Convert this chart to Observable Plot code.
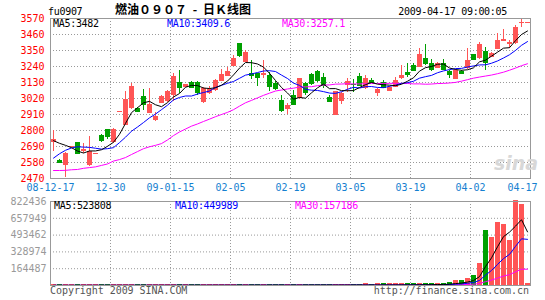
<!DOCTYPE html>
<html><head><meta charset="utf-8">
<script src="https://cdn.jsdelivr.net/npm/d3@7"></script>
<script src="https://cdn.jsdelivr.net/npm/@observablehq/plot@0.6"></script>
<style>
body{margin:0;background:#fff;}
#wrap{position:relative;width:545px;height:300px;overflow:hidden;font-family:"DejaVu Sans Mono",monospace;}
#wrap svg{position:absolute;left:0;top:0;}
.t{position:absolute;font-size:10px;line-height:12px;white-space:pre;letter-spacing:-0.3px;}
</style></head><body><div id="wrap"></div>
<script>
// ---- data (燃油0907 daily K line) ----
const opens  = [2720,2596,2557,2685,2717,2658,2562,2640,2768,2807,
                2715,2927,2837,2950,2951,3032,2919,2869,2988,2998,
                3041,3132,3098,3132,3132,2990,3052,3075,3139,3173,
                3242,3396,3270,3194,3190,3178,3178,3125,3006,2944,
                3041,3018,3121,3183,3206,3167,3029,2905,3002,3109,
                3118,3173,3087,3143,3052,3132,3070,3098,3155,3201,
                3247,3235,3293,3263,3228,3263,3206,3151,3206,3224,
                3320,3293,3343,3304,3357,3412,3391,3396,3536,3538];
const highs  = [2798,2598,2650,2692,2720,2711,2757,2643,2770,2810,
                2812,2931,3070,3123,2958,3080,3087,2926,3038,3072,
                3190,3212,3118,3136,3140,3095,3100,3150,3217,3231,
                3316,3400,3350,3281,3195,3281,3197,3140,3040,2986,
                3075,3160,3130,3195,3215,3190,3040,3070,3060,3155,
                3150,3190,3175,3155,3090,3145,3100,3165,3245,3259,
                3260,3362,3391,3290,3270,3290,3212,3217,3212,3365,
                3325,3403,3373,3335,3470,3494,3420,3522,3568,3542];
const lows   = [2658,2580,2475,2682,2640,2640,2555,2638,2718,2738,
                2712,2925,2833,2945,2925,2937,2915,2862,2985,2995,
                3000,3052,3095,3090,3040,2985,3045,3070,3135,3170,
                3240,3305,3265,3149,3102,3160,3067,3075,2925,2910,
                2975,3010,3040,3110,3130,3090,2995,2900,2980,3063,
                3063,3105,3085,3125,3035,3090,3065,3095,3150,3167,
                3205,3230,3247,3205,3225,3215,3155,3148,3185,3220,
                3280,3290,3212,3300,3355,3410,3365,3392,3510,3536];
const closes = [2740,2582,2642,2688,2642,2671,2654,2642,2729,2761,
                2809,2929,3015,3100,2929,2979,2979,2898,3034,3068,
                3173,3098,3114,3098,3063,3087,3080,3143,3183,3206,
                3297,3316,3334,3178,3162,3190,3102,3087,2937,2972,
                2979,3160,3063,3121,3143,3109,3002,3065,3052,3139,
                3114,3109,3160,3130,3080,3094,3094,3143,3178,3185,
                3212,3322,3263,3217,3263,3220,3185,3212,3190,3281,
                3286,3391,3270,3327,3419,3424,3407,3510,3540,3540];
const volumes = [1500,1800,1600,1400,2000,1700,1900,1500,2100,1800,
                 2200,1600,2400,2300,1900,2500,2100,1800,2600,2200,
                 2800,2500,2300,2600,2900,2400,2700,3000,2600,2800,
                 3200,3000,2900,3300,3100,2800,3400,3200,3600,3000,
                 3500,3800,3300,3600,4000,3700,4200,3900,4500,4100,
                 4800,4400,5000,4600,5200,5600,5000,6000,5500,6500,
                 7000,8000,9000,10000,12000,14000,18000,38000,38000,61000,
                 87000,210000,530000,464000,603000,585000,430000,822436,780000,8000];
// moving-average values before each window is full
const ma5Head  = [2730,2712,2698,2682];
const ma10Head = [2610,2640,2664,2680,2688,2686,2684,2678,2672];
const ma30Head = [2525,2525,2526,2530,2532,2540,2545,2550,2560,2570,
                  2590,2600,2614,2635,2655,2675,2688,2698,2710,2735,
                  2765,2790,2810,2830,2845,2862,2878,2895,2910];
const dateTicks  = [0,10,20,30,40,50,60,70,80];
const dateLabels = ["08-12-17","12-30","09-01-15","02-05","02-19","03-05","03-19","04-02","04-17"];
const priceTicks = [2470,2580,2690,2800,2910,3020,3130,3240,3350,3460,3570];
const volTicks   = [164487,328974,493462,657949,822436];
const maLabels   = ["MA5:3482","MA10:3409.6","MA30:3257.1"];
const volMaLabels= ["MA5:523808","MA10:449989","MA30:157186"];

const RED = "#ff5555", GREEN = "#00a000", GRID = "#999", BLUE_TXT = "#1580d0";

const bars = closes.map((c, i) => ({i, o: opens[i], h: highs[i], l: lows[i], c, v: volumes[i], up: c >= opens[i]}));
const col = d => d.up ? RED : GREEN;

function maFull(vals, n, head) {
  return vals.map((v, i) => ({i, y: i < n - 1 ? head[i] : d3.mean(vals.slice(i - n + 1, i + 1))}));
}
function maPartial(vals, n) {
  return vals.map((v, i) => ({i, y: d3.mean(vals.slice(Math.max(0, i - n + 1), i + 1))}));
}
const pm5 = maFull(closes, 5, ma5Head), pm10 = maFull(closes, 10, ma10Head), pm30 = maFull(closes, 30, ma30Head);
const vm5 = maPartial(volumes, 5), vm10 = maPartial(volumes, 10), vm30 = maPartial(volumes, 30);

const dotted = {stroke: GRID, strokeOpacity: 1, strokeDasharray: "1,2"};
const styleBase = {background: "transparent", fontFamily: "DejaVu Sans Mono, monospace", fontSize: "10px", overflow: "visible"};

const pricePlot = Plot.plot({
  width: 545, height: 300, marginTop: 18, marginBottom: 122, marginLeft: 50, marginRight: 15,
  x: {domain: [0, 80], axis: null}, y: {domain: [2470, 3570], axis: null}, color: {type: "identity"},
  style: styleBase,
  marks: [
    Plot.gridX(dateTicks.slice(1, 8), dotted),
    Plot.gridY(priceTicks.slice(1, 10), dotted),
    Plot.ruleX(bars, {x: d => d.i + 0.5, y1: "l", y2: "h", stroke: col, shapeRendering: "crispEdges"}),
    Plot.rect(bars, {x1: d => d.i + 1/12, x2: d => d.i + 11/12, y1: "o", y2: "c", fill: col, shapeRendering: "crispEdges"}),
    Plot.ruleY(bars, {y: "c", x1: d => d.i + 1/12, x2: d => d.i + 11/12, stroke: col, shapeRendering: "crispEdges"}),
    Plot.line(pm30, {x: d => d.i + 0.5, y: "y", stroke: "#ff00ff", strokeWidth: 1}),
    Plot.line(pm10, {x: d => d.i + 0.5, y: "y", stroke: "#0000ff", strokeWidth: 1}),
    Plot.line(pm5, {x: d => d.i + 0.5, y: "y", stroke: "#000000", strokeWidth: 1}),
    Plot.frame({stroke: GRID, strokeOpacity: 1}),
    Plot.axisY(priceTicks, {tickSize: 0, tickPadding: 6, fill: "#ff0000", tickFormat: d => String(d), letterSpacing: "-0.3px"}),
    Plot.axisX(dateTicks.slice(0, 8), {tickSize: 0, tickPadding: 5, fill: BLUE_TXT, tickFormat: d => dateLabels[dateTicks.indexOf(d)]}),
    Plot.axisX([80], {tickSize: 0, tickPadding: 5, dx: -8, fill: BLUE_TXT, tickFormat: d => dateLabels[dateTicks.indexOf(d)]})
  ]
});

const volPlot = Plot.plot({
  width: 545, height: 300, marginTop: 201, marginBottom: 15, marginLeft: 50, marginRight: 15,
  x: {domain: [0, 80], axis: null}, y: {domain: [0, 822436], axis: null}, color: {type: "identity"},
  style: styleBase,
  marks: [
    Plot.gridX(dateTicks.slice(1, 8), dotted),
    Plot.gridY(volTicks.slice(0, 4), dotted),
    Plot.rect(bars, {x1: d => d.i + 1/12, x2: d => d.i + 11/12, y1: 0, y2: "v", fill: col, shapeRendering: "crispEdges"}),
    Plot.ruleY(bars, {y: "v", dy: -1, x1: d => d.i + 1/12, x2: d => d.i + 11/12, stroke: col, shapeRendering: "crispEdges"}),
    Plot.line(vm30, {x: d => d.i + 0.5, y: "y", stroke: "#ff00ff", strokeWidth: 1}),
    Plot.line(vm10, {x: d => d.i + 0.5, y: "y", stroke: "#0000ff", strokeWidth: 1}),
    Plot.line(vm5, {x: d => d.i + 0.5, y: "y", stroke: "#000000", strokeWidth: 1}),
    Plot.frame({stroke: GRID, strokeOpacity: 1}),
    Plot.axisY(volTicks, {tickSize: 0, tickPadding: 4, fill: "#999", tickFormat: d => String(d), letterSpacing: "-0.3px"})
  ]
});

const wrap = document.getElementById("wrap");
wrap.appendChild(pricePlot);
wrap.appendChild(volPlot);

function addText(txt, css) {
  const d = document.createElement("div");
  d.className = "t";
  d.textContent = txt;
  Object.assign(d.style, css);
  wrap.appendChild(d);
  return d;
}
addText("fu0907", {left: "48px", top: "6px", color: "#000"});
addText("燃油０９０７ - 日Ｋ线图", {left: "115px", top: "2px", color: "#000", fontFamily: "'Noto Sans CJK SC', sans-serif", fontWeight: "bold", fontSize: "12px", lineHeight: "14px", letterSpacing: "0px", wordSpacing: "3px"});
addText("2009-04-17 09:00:05", {right: "38px", top: "6px", color: "#000"});
addText(maLabels[0], {left: "53px", top: "18px", color: "#000"});
addText(maLabels[1], {left: "167px", top: "18px", color: "#0000ff"});
addText(maLabels[2], {left: "282px", top: "18px", color: "#ff00ff"});
addText(volMaLabels[0], {left: "54px", top: "200px", color: "#000"});
addText(volMaLabels[1], {left: "175px", top: "200px", color: "#0000ff"});
addText(volMaLabels[2], {left: "295px", top: "200px", color: "#ff00ff"});
addText("Copyright 2009 SINA.COM", {left: "50px", top: "285px", color: "#555", letterSpacing: "-0.05px"});
addText("http://finance.sina.com.cn", {right: "16px", top: "285px", color: "#555", letterSpacing: "-0.05px"});
addText("sina", {left: "494px", top: "152px", color: "#d8d8d8", fontFamily: "'DejaVu Sans', sans-serif", fontWeight: "bold", fontStyle: "italic", fontSize: "19px", lineHeight: "22px", letterSpacing: "0px"});
</script></body></html>
